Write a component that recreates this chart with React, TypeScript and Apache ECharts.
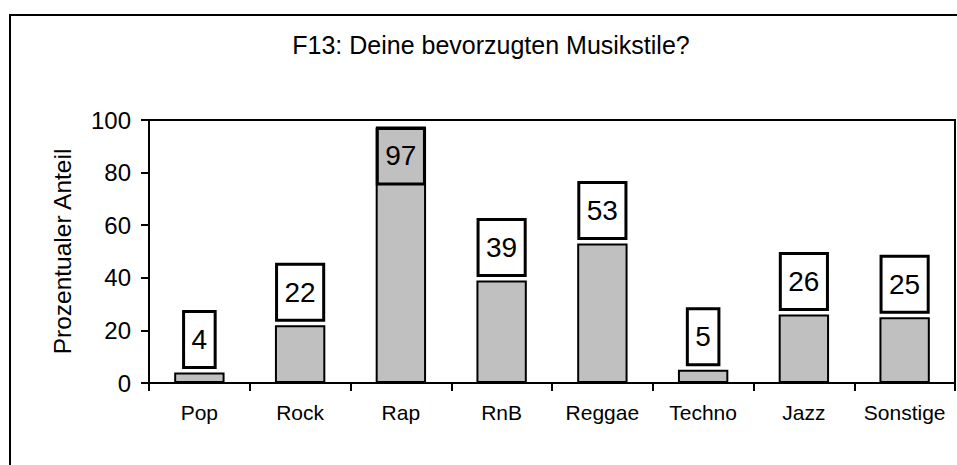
import React, { useEffect, useRef } from "react";
import * as echarts from "echarts";

const categories = ["Pop", "Rock", "Rap", "RnB", "Reggae", "Techno", "Jazz", "Sonstige"];
const values = [4, 22, 97, 39, 53, 5, 26, 25];
const yTicks = { min: 0, max: 100, interval: 20 };
const titleText = "F13: Deine bevorzugten Musikstile?";
const yAxisName = "Prozentualer Anteil";

const FONT = "'Liberation Sans', Arial, sans-serif";

export default function App() {
  const ref = useRef<HTMLDivElement>(null);
  useEffect(() => {
    if (!ref.current) return;
    const chart = echarts.init(ref.current, undefined, { renderer: "svg" });
    const data = values.map((v) =>
      v > 90
        ? { value: v, label: { position: "insideTop", distance: 0 } }
        : { value: v }
    );
    chart.setOption({
      animation: false,
      backgroundColor: "#fff",
      textStyle: { fontFamily: FONT },
      graphic: [
        {
          type: "rect",
          shape: { x: 10, y: 15, width: 980, height: 500 },
          style: { fill: "none", stroke: "#000", lineWidth: 2 },
          silent: true,
          z: -1,
        },
        {
          type: "text",
          x: 491,
          y: 32,
          style: {
            text: titleText,
            fontFamily: FONT,
            fontSize: 25,
            fill: "#000",
            textAlign: "center",
            textVerticalAlign: "top",
          },
        },
      ],
      grid: {
        left: 149,
        right: 2,
        top: 120,
        bottom: 82,
        show: true,
        borderColor: "#000",
        borderWidth: 2,
        backgroundColor: "transparent",
      },
      xAxis: {
        type: "category",
        data: categories,
        boundaryGap: true,
        axisLine: { show: true, lineStyle: { color: "#000", width: 2 } },
        axisTick: { show: true, interval: 0, alignWithLabel: false, length: 8, lineStyle: { color: "#000", width: 2 } },
        axisLabel: { color: "#000", fontSize: 21, fontFamily: FONT, margin: 19, interval: 0 },
      },
      yAxis: {
        type: "value",
        min: yTicks.min,
        max: yTicks.max,
        interval: yTicks.interval,
        name: yAxisName,
        nameLocation: "middle",
        nameGap: 74,
        nameTextStyle: { color: "#000", fontSize: 24.5, fontFamily: FONT },
        axisLine: { show: true, lineStyle: { color: "#000", width: 2 } },
        axisTick: { show: true, length: 8, lineStyle: { color: "#000", width: 2 } },
        axisLabel: { color: "#000", fontSize: 24, fontFamily: FONT, margin: 18 },
        splitLine: { show: false },
      },
      series: [
        {
          type: "bar",
          data,
          barWidth: "50%",
          itemStyle: { color: "#C0C0C0", borderColor: "#000", borderWidth: 2 },
          label: {
            show: true,
            position: "top",
            distance: 5,
            color: "#000",
            fontSize: 28,
            fontFamily: FONT,
            lineHeight: 28,
            padding: [14, 8],
            borderColor: "#000",
            borderWidth: 1.5,
            backgroundColor: "transparent",
          },
        },
      ],
    });
    return () => chart.dispose();
  }, []);
  return (
    <div
      ref={ref}
      style={{ position: "fixed", left: 0, top: 0, width: 957, height: 465 }}
    />
  );
}
